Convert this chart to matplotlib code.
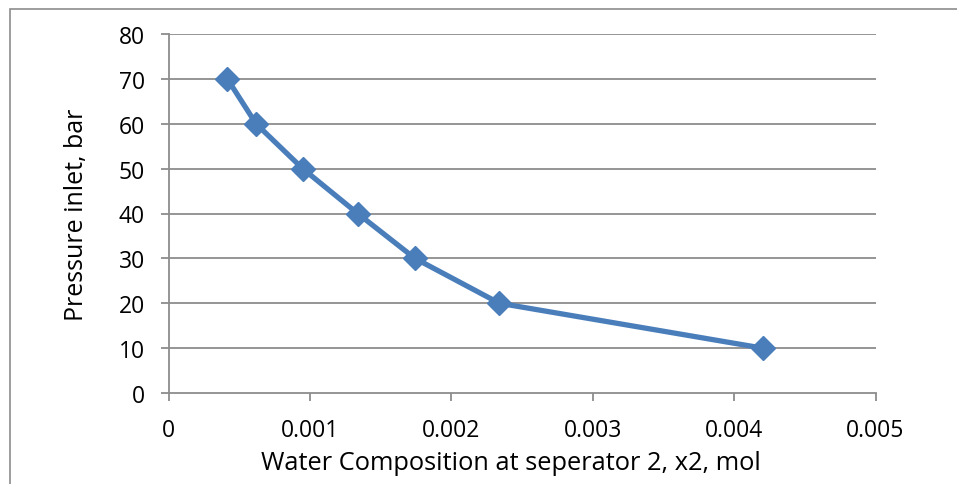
import matplotlib
matplotlib.use("Agg")
import matplotlib.pyplot as plt
from matplotlib.patches import Rectangle

x_values = [0.000416, 0.000619, 0.000949, 0.001338, 0.001743, 0.00234, 0.004202]
y_values = [70, 60, 50, 40, 30, 20, 10]
x_ticks = [0, 0.001, 0.002, 0.003, 0.004, 0.005]
x_tick_labels = ["0", "0.001", "0.002", "0.003", "0.004", "0.005"]
y_ticks = [0, 10, 20, 30, 40, 50, 60, 70, 80]

plt.rcParams['font.family'] = ['Open Sans', 'DejaVu Sans']

W, H = 957, 485
fig = plt.figure(figsize=(W/100, H/100), dpi=100)
ax = fig.add_axes([168.5/W, 1-394/H, (875.5-168.5)/W, (394-35)/H])

grid_c = '#8c8c8c'
fig.patches.append(Rectangle((10/W, -0.1), 1.2, 1-10/H+0.1, transform=fig.transFigure,
                             fill=False, edgecolor=grid_c, linewidth=1.2))

for y in y_ticks[1:]:
    ax.axhline(y, color=grid_c, linewidth=1.3, zorder=1)

ax.plot(x_values, y_values, color='#4a7ebb', linewidth=3.8, marker='D',
        markersize=12, markerfacecolor='#4a7ebb', markeredgecolor='#4a7ebb', zorder=3,
        solid_joinstyle='round')

ax.set_xlim(0, 0.005)
ax.set_ylim(0, 80)
ax.set_xticks(x_ticks)
ax.set_xticklabels(x_tick_labels)
ax.set_yticks(y_ticks)
for s in ['top', 'right']:
    ax.spines[s].set_visible(False)
for s in ['left', 'bottom']:
    ax.spines[s].set_color(grid_c)
    ax.spines[s].set_linewidth(1.3)
ax.tick_params(axis='both', direction='out', length=6, width=1.3, color=grid_c,
               labelsize=16.5)
ax.tick_params(axis='x', pad=12)
ax.tick_params(axis='y', pad=11)
ax.set_xlabel("Water Composition at seperator 2, x2, mol", fontsize=18.3, labelpad=6)
ax.xaxis.label.set_x((511 - 168.5) / 707)
ax.set_ylabel("Pressure inlet, bar", fontsize=18)
ax.yaxis.set_label_coords((89.5 - 168.5) / 707, 0.5)

fig.savefig("out.png", dpi=100)
